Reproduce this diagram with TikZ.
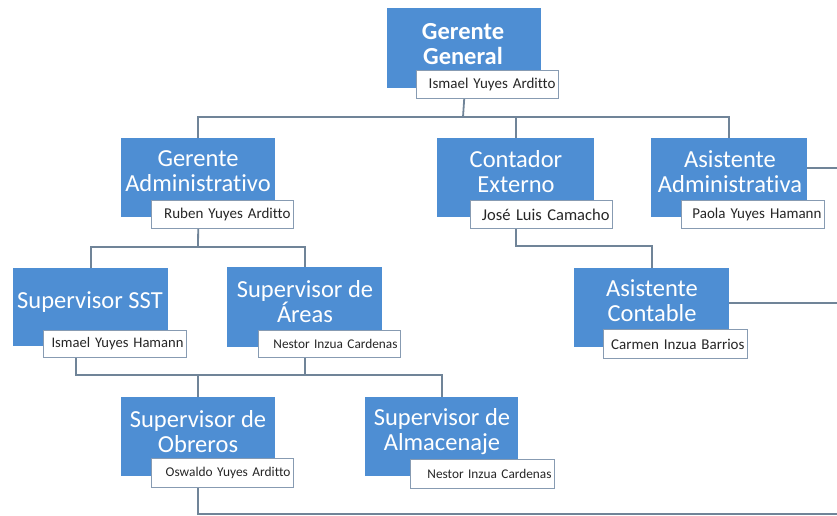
\documentclass[tikz,border=0pt]{standalone}
\usepackage{fontspec}
\setmainfont{Carlito}[Ligatures=CommonOff]
\definecolor{boxblue}{RGB}{78,142,211}
\definecolor{linecol}{RGB}{112,132,152}
\definecolor{namebd}{RGB}{135,155,178}
\begin{document}
\begin{tikzpicture}[x=1pt,y=-1pt,
  box/.style={fill=boxblue, draw=none, inner sep=0pt, anchor=north west},
  ttl/.style={text=white, align=center, font=\fontsize{24.5}{25}\selectfont, inner sep=0pt},
  nm/.style={draw=namebd, line width=1pt, fill=white, anchor=north west, inner xsep=3pt, inner ysep=0pt, align=right, text=black!85},
  conn/.style={draw=linecol, line width=1.8pt}]
\useasboundingbox (0,0) rectangle (837,516);
% title boxes
\node[box, minimum width=154pt, minimum height=80pt] (gg) at (387,8) {};
\node[box, minimum width=154pt, minimum height=79pt] (ga) at (121,138) {};
\node[box, minimum width=157pt, minimum height=79pt] (ce) at (437,138) {};
\node[box, minimum width=156pt, minimum height=79pt] (aa) at (651,138) {};
\node[box, minimum width=155pt, minimum height=78pt] (sst) at (13,268) {};
\node[box, minimum width=155pt, minimum height=80pt] (ar) at (227,267) {};
\node[box, minimum width=155pt, minimum height=79pt] (ac) at (574,268) {};
\node[box, minimum width=154pt, minimum height=79pt] (ob) at (121,397) {};
\node[box, minimum width=153pt, minimum height=79pt] (al) at (365,397) {};
% titles
\node[ttl, font=\fontsize{24.5}{25}\selectfont\bfseries] (ggt) at (463,44.5) {Gerente\\General};
\node[ttl] (gat) at (198,171) {Gerente\\Administrativo};
\node[ttl] (cet) at (516,172) {Contador\\Externo};
\node[ttl] (aat) at (730,172) {Asistente\\Administrativa};
\node[ttl] (sstt) at (90,302) {Supervisor SST};
\node[ttl] (art) at (305,302) {Supervisor de\\Áreas};
\node[ttl] (act) at (652,301) {Asistente\\Contable};
\node[ttl] (obt) at (198,432) {Supervisor de\\Obreros};
\node[ttl] (alt) at (442,432) {Supervisor de\\Almacenaje};
% name boxes
\node[nm, text width=136pt, minimum height=28pt, font=\fontsize{15}{16}\selectfont] (ggn) at (416,70) {Ismael Yuyes Arditto};
\node[nm, text width=136pt, minimum height=28pt, font=\fontsize{15}{16}\selectfont] (gan) at (151,200) {Ruben Yuyes Arditto};
\node[nm, text width=136pt, minimum height=28pt, font=\fontsize{16.5}{17}\selectfont] (cen) at (470,200) {José Luis Camacho};
\node[nm, text width=137pt, minimum height=28pt, font=\fontsize{15}{16}\selectfont] (aan) at (681,200) {Paola Yuyes Hamann};
\node[nm, text width=137pt, minimum height=27pt, font=\fontsize{14.6}{16}\selectfont] (sstn) at (43,330) {Ismael Yuyes Hamann};
\node[nm, text width=136pt, minimum height=27pt, font=\fontsize{13.3}{14}\selectfont] (arn) at (258,330) {Nestor Inzua Cardenas};
\node[nm, text width=138pt, minimum height=29pt, font=\fontsize{15}{16}\selectfont] (acn) at (603,329) {Carmen Inzua Barrios};
\node[nm, text width=136pt, minimum height=29pt, font=\fontsize{13.4}{14}\selectfont] (obn) at (151,458) {Oswaldo Yuyes Arditto};
\node[nm, text width=138pt, minimum height=29pt, font=\fontsize{13.3}{14}\selectfont] (aln) at (410,459) {Nestor Inzua Cardenas};
% connectors
\coordinate (bus1) at (463,117);
\draw[conn] (gg.center |- ggn.south) -- (bus1);
\draw[conn] (ga.north) |- (bus1) -| (aa.north);
\draw[conn] (ce.north) -- (ce.north |- bus1);
\coordinate (bus2) at (198,247);
\draw[conn] (ga.center |- gan.south) -- (bus2);
\draw[conn] (sst.north) |- (bus2) -| (ar.north);
\coordinate (bus3) at (584,246);
\draw[conn] (ce.center |- cen.south) |- (bus3) -| (ac.north);
\coordinate (bus4) at (76,375);
\draw[conn] (bus4 |- sstn.south) -- (bus4) -| (al.north);
\draw[conn] (ar.center |- arn.south) -- (ar.center |- bus4);
\draw[conn] (ob.north) -- (ob.north |- bus4);
\coordinate (out1) at (837,168);
\draw[conn] (aa.east |- out1) -- (out1);
\coordinate (out2) at (837,303);
\draw[conn] (ac.east |- out2) -- (out2);
\coordinate (out3) at (837,514);
\draw[conn] (ob.center |- obn.south) |- (out3);
\end{tikzpicture}
\end{document}
